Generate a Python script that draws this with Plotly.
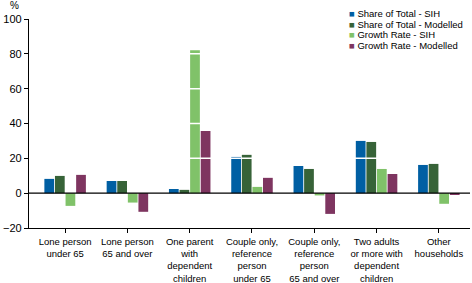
import plotly.graph_objects as go

categories = [
    "Lone person<br>under 65",
    "Lone person<br>65 and over",
    "One parent<br>with<br>dependent<br>children",
    "Couple only,<br>reference<br>person<br>under 65",
    "Couple only,<br>reference<br>person<br>65 and over",
    "Two adults<br>or more with<br>dependent<br>children",
    "Other<br>households",
]

share_sih = [8.2, 7.0, 2.4, 20.8, 15.6, 30.0, 16.2]
share_modelled = [9.9, 7.0, 1.9, 22.0, 13.9, 29.4, 16.8]
growth_sih = [-7.3, -5.4, 82.1, 3.6, -1.3, 13.9, -6.1]
growth_modelled = [10.5, -10.7, 35.7, 8.8, -11.9, 11.0, -1.0]

series_names = ["Share of Total - SIH", "Share of Total - Modelled",
                "Growth Rate - SIH", "Growth Rate - Modelled"]
series_values = [share_sih, share_modelled, growth_sih, growth_modelled]
colors = ["#005FA3", "#376338", "#80C269", "#7E3560"]

y_ticks = [-20, 0, 20, 40, 60, 80, 100]

font = "Liberation Sans, Arial, sans-serif"

fig = go.Figure()
for name, vals, col in zip(series_names, series_values, colors):
    fig.add_trace(go.Bar(x=list(range(len(categories))), y=vals, name=name,
                         marker=dict(color=col, line=dict(width=0))))

# white gridlines drawn over the bars
for t in y_ticks:
    if t > 0:
        fig.add_shape(type="line", xref="paper", x0=0, x1=1, yref="y", y0=t, y1=t,
                      line=dict(color="white", width=1.5), layer="above")
fig.add_shape(type="line", xref="paper", x0=0, x1=1, yref="y", y0=0, y1=0,
              line=dict(color="black", width=1.2), layer="above")

# legend as text rows
for i, (name, col) in enumerate(zip(series_names, colors)):
    fig.add_annotation(xref="paper", yref="paper", x=0.722, y=1.024 - i * 0.05,
                       xanchor="left", yanchor="middle", showarrow=False,
                       text=f"<span style='color:{col}'>■</span> {name}",
                       font=dict(family=font, size=9.5, color="black"))

fig.add_annotation(xref="paper", yref="paper", x=-0.033, y=1.03, xanchor="center",
                   yanchor="bottom", showarrow=False, text="%",
                   font=dict(family=font, size=10, color="black"))

fig.update_layout(
    width=472, height=283,
    margin=dict(l=29, r=2, t=19, b=55),
    plot_bgcolor="white", paper_bgcolor="white",
    barmode="group", bargap=0.32, bargroupgap=0.08,
    showlegend=False,
    font=dict(family=font, size=11, color="black"),
    xaxis=dict(tickmode="array", tickvals=list(range(len(categories))),
               ticktext=categories, range=[-0.58, 6.5], automargin=False,
               showline=True, linecolor="black", linewidth=1.2,
               ticks="outside", ticklen=4, tickcolor="black",
               showgrid=False, zeroline=False, tickangle=0,
               tickfont=dict(size=9.5)),
    yaxis=dict(range=[-20, 100], tickvals=y_ticks, showline=True, automargin=False,
               linecolor="black", linewidth=1.2, ticks="outside", ticklen=4,
               tickcolor="black", showgrid=False, zeroline=False,
               tickfont=dict(size=11)),
)

# drop the default page margin so the figure sits at the window's corner
fig.write_html("out.html", config={"displayModeBar": False},
               post_script="document.body.style.margin='0';")
